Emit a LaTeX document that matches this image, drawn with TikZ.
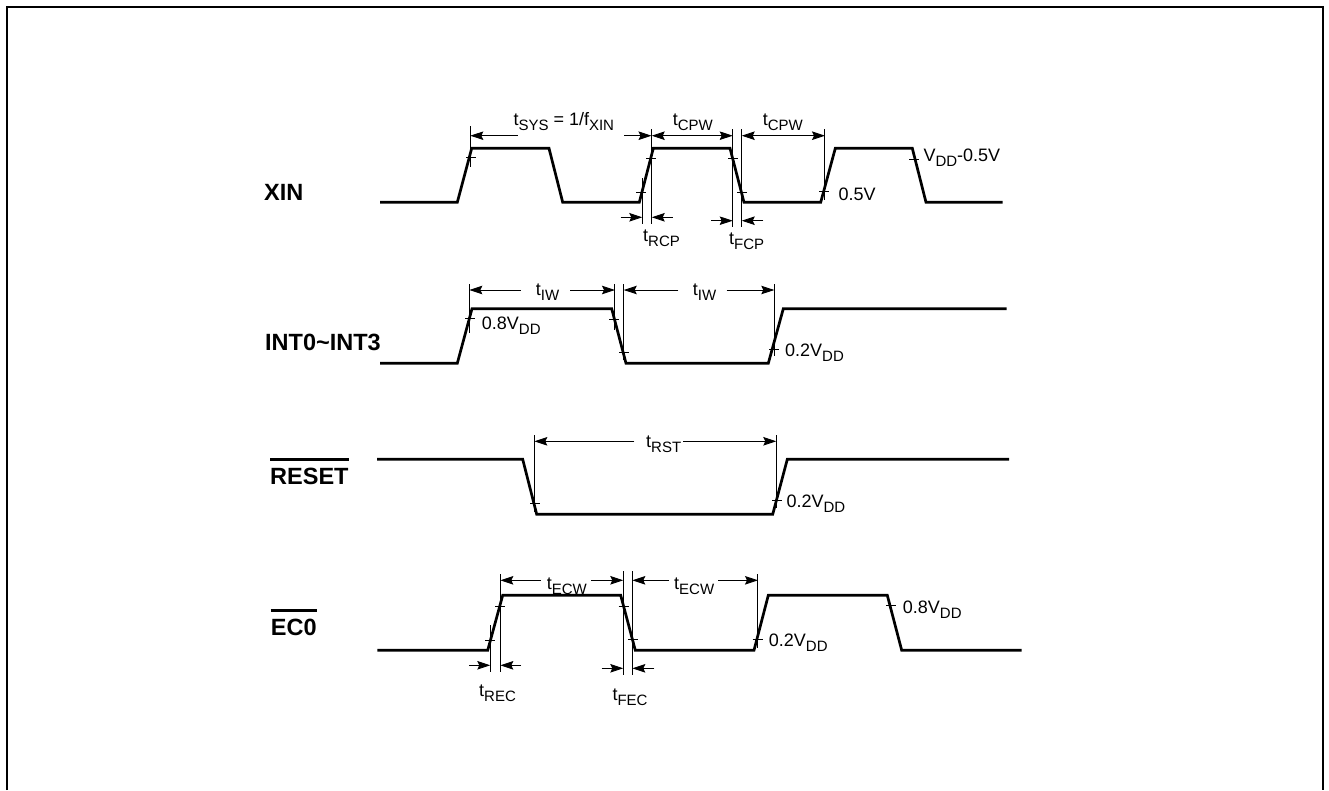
\documentclass[tikz,border=0pt]{standalone}
\usepackage{fontspec}
\setmainfont{Liberation Sans}
\usetikzlibrary{arrows.meta}
\newcommand{\subt}[2]{#1\raisebox{-5pt}{\fontsize{15}{15}\selectfont #2}}
\tikzset{
  frame/.style={line width=2pt},
  wave/.style={line width=2.7pt,line join=miter},
  fine/.style={line width=0.9pt},
  dimline/.style={line width=0.9pt,-{Stealth[length=13pt,width=8.5pt,inset=2pt]}},
  lbl/.style={inner sep=0pt,anchor=base west,font=\fontsize{18}{18}\selectfont,text=black},
  sig/.style={inner sep=0pt,anchor=base west,font=\fontsize{23.5}{24}\selectfont\bfseries},
  bar/.style={line width=2.7pt}
}
\begin{document}
\begin{tikzpicture}[x=1pt,y=-1pt]
\useasboundingbox (0,0) rectangle (1329,790);
\draw[frame] (7,790) -- (7,7) -- (1323,7) -- (1323,790);

% signal names
\node[sig] (xin) at (264,200) {XIN};
\node[sig] (int) at (265,350) {INT0\textasciitilde INT3};
\node[sig] (rst) at (270,484) {RESET};
\node[sig] (ec) at (270.7,635) {EC0};
\draw[bar] (rst.west |- 0,459.3) -- (rst.east |- 0,459.3);
\draw[bar] (ec.west |- 0,610.3) -- (ec.east |- 0,610.3);

% waveforms
\draw[wave] (380,202.3) -- (457.3,202.3) -- (471.7,148.3) -- (549,148.3) -- (562.7,202.3) -- (639.3,202.3) -- (653.3,148.3) -- (730,148.3) -- (744,202.3) -- (820.7,202.3) -- (835.3,148.3) -- (912.3,148.3) -- (926,202.3) -- (1002.7,202.3);
\draw[wave] (380,363.3) -- (457.3,363.3) -- (472,308.7) -- (611.7,308.7) -- (626,363.3) -- (768.3,363.3) -- (783.3,308.7) -- (1006.7,308.7);
\draw[wave] (377,459.3) -- (522.7,459.3) -- (536.7,514.3) -- (772.7,514.3) -- (787.3,459.3) -- (1009,459.3);
\draw[wave] (377.3,650.3) -- (487.7,650.3) -- (502.7,595.3) -- (620.7,595.3) -- (635.3,650.3) -- (754,650.3) -- (768.3,595.3) -- (887.3,595.3) -- (901.7,650.3) -- (1021.7,650.3);

% XIN extension lines and ticks
\draw[fine] (470.3,126) -- (470.3,166.7) (466,157.7) -- (476,157.7);
\draw[fine] (651.3,129.3) -- (651.3,224) (646,158.3) -- (656,158.3);
\draw[fine] (642.3,178.3) -- (642.3,224) (636,192.3) -- (646,192.3);
\draw[fine] (732.7,129.3) -- (732.7,226.7) (728,158.3) -- (738,158.3);
\draw[fine] (741.3,129.3) -- (741.3,226.7) (737,192.3) -- (747,192.3);
\draw[fine] (824.7,129.3) -- (824.7,200) (819,191.7) -- (829,191.7);
\draw[fine] (909,159) -- (919,159);
% XIN dimensions
\draw[dimline] (517.7,135.7) -- (470.3,135.7);
\draw[dimline] (624,135.7) -- (651.5,135.7);
\draw[dimline] (690,135.7) -- (651.7,135.7);
\draw[dimline] (690,135.7) -- (732.7,135.7);
\draw[dimline] (783,135.7) -- (741.7,135.7);
\draw[dimline] (783,135.7) -- (825,135.7);
\draw[dimline] (620.7,217.3) -- (642.3,217.3);
\draw[dimline] (672.7,217.3) -- (651.7,217.3);
\draw[dimline] (711,220.7) -- (732.7,220.7);
\draw[dimline] (763.3,220.7) -- (741.7,220.7);
% XIN labels
\node[lbl] (tsys) at (513.3,125.7) {\subt{t}{SYS} = 1/f\raisebox{-5pt}{\fontsize{15}{15}\selectfont XIN}};
\node[lbl] (tcpwa) at (672.7,125.7) {\subt{t}{CPW}};
\node[lbl] (tcpwb) at (762.7,125.7) {\subt{t}{CPW}};
\node[lbl] (trcp) at (643,241.7) {\subt{t}{RCP}};
\node[lbl] (tfcp) at (729,244) {\subt{t}{FCP}};
\node[lbl] (vhalf) at (838.3,200) {0.5V};
\node[lbl] (vddm) at (923.3,161.7) {\subt{V}{DD}-0.5V};

% INT extension lines and ticks
\draw[fine] (469.3,284) -- (469.3,332.7) (465,318.3) -- (475,318.3);
\draw[fine] (614.3,284) -- (614.3,330) (609,319) -- (619,319);
\draw[fine] (623.7,284) -- (623.7,360) (619,352.3) -- (629,352.3);
\draw[fine] (774.3,284) -- (774.3,356) (769,349.3) -- (779,349.3);
% INT dimensions
\draw[dimline] (520.7,290) -- (469.3,290);
\draw[dimline] (570,290) -- (615,290);
\draw[dimline] (678.3,290) -- (623.7,290);
\draw[dimline] (726.7,290) -- (774.3,290);
% INT labels
\node[lbl] (tiwa) at (535.7,295.7) {\subt{t}{IW}};
\node[lbl] (tiwb) at (692.7,295.7) {\subt{t}{IW}};
\node[lbl] (veighta) at (481.7,329.3) {\subt{0.8V}{DD}};
\node[lbl] (vtwoa) at (785,356) {\subt{0.2V}{DD}};

% RESET
\draw[fine] (534.3,435) -- (534.3,511.7) (530,503.3) -- (540,503.3);
\draw[fine] (776.3,435) -- (776.3,508.3) (772,500.7) -- (782,500.7);
\draw[dimline] (634.3,441.3) -- (534.3,441.3);
\draw[dimline] (683.3,441.3) -- (776.3,441.3);
\node[lbl] (trst) at (646,447.7) {\subt{t}{RST}};
\node[lbl] (vtwob) at (786.3,507.3) {\subt{0.2V}{DD}};

% EC0 extension lines and ticks
\draw[fine] (500.3,574) -- (500.3,671.7) (495.3,606) -- (505.3,606);
\draw[fine] (490.3,625) -- (490.3,671.7) (485.3,640.3) -- (495.3,640.3);
\draw[fine] (623.3,571) -- (623.3,675) (618.7,606) -- (628.7,606);
\draw[fine] (632.3,571) -- (632.3,675) (628.3,639.3) -- (638.3,639.3);
\draw[fine] (757.7,574) -- (757.7,647.7) (752.7,639.3) -- (762.7,639.3);
\draw[fine] (886,605.7) -- (896,605.7);
% EC0 dimensions
\draw[dimline] (541,580.3) -- (500.3,580.3);
\draw[dimline] (591,580.3) -- (623.3,580.3);
\draw[dimline] (669,580.3) -- (632.3,580.3);
\draw[dimline] (718,580.3) -- (758,580.3);
\draw[dimline] (469,665.3) -- (490.3,665.3);
\draw[dimline] (521,665.3) -- (500.3,665.3);
\draw[dimline] (601.7,668.3) -- (623.3,668.3);
\draw[dimline] (654.3,668.3) -- (632.3,668.3);
% EC0 labels
\node[lbl] (tecwa) at (546.7,589) {\subt{t}{ECW}};
\node[lbl] (tecwb) at (674,589) {\subt{t}{ECW}};
\node[lbl] (trec) at (479,696.7) {\subt{t}{REC}};
\node[lbl] (tfec) at (612.3,700) {\subt{t}{FEC}};
\node[lbl] (vtwoc) at (768.7,646.7) {\subt{0.2V}{DD}};
\node[lbl] (veightb) at (902.7,613.3) {\subt{0.8V}{DD}};
\end{tikzpicture}
\end{document}
